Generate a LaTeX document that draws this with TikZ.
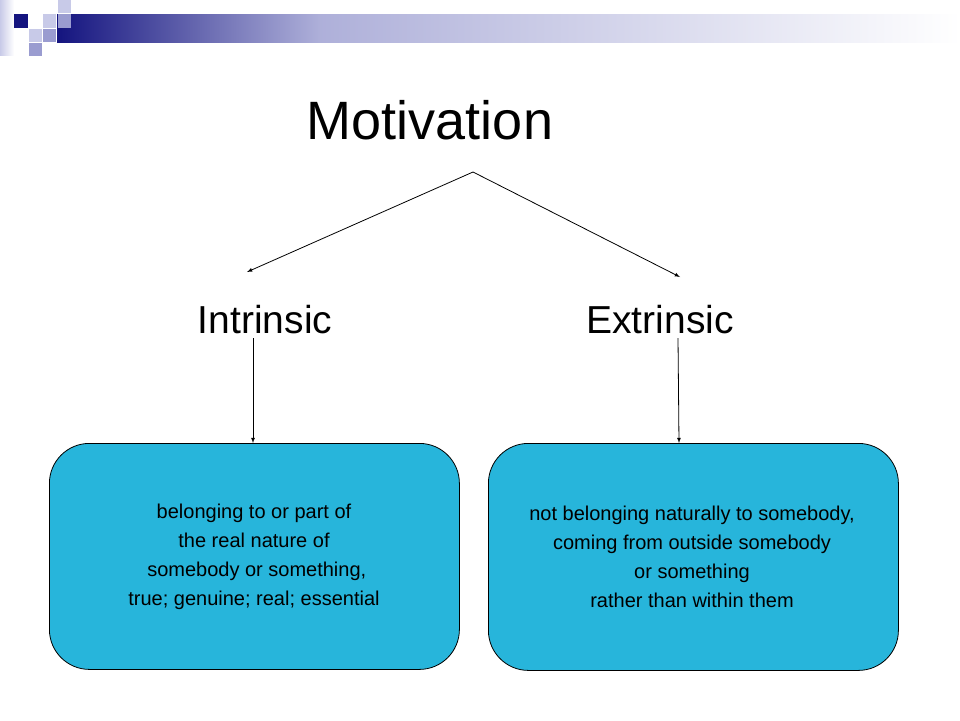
\documentclass[tikz,border=0pt]{standalone}
\usepackage{fontspec}
\setmainfont{Liberation Sans}
\definecolor{boxc}{HTML}{27B5DB}
\definecolor{dblue}{HTML}{14147F}
\definecolor{lblue}{HTML}{C8CAE8}
\definecolor{mblue}{HTML}{9A9CD0}
\begin{document}
\begin{tikzpicture}[x=1pt,y=-1pt,
  sq/.style={inner sep=0,outer sep=0,minimum size=13.5pt},
  bx/.style={draw=black,fill=boxc,rounded corners=40pt,line width=0.8pt,minimum width=410pt,minimum height=226pt,anchor=north west},
  tx/.style={align=center,font=\fontsize{20}{28.8}\selectfont},
  arr/.style={-latex,line width=0.8pt}]
\useasboundingbox (0,0) rectangle (960,720);
\shade[left color=lblue,right color=white] (0,0) rectangle (14,55);
\shade[left color=dblue,right color=white] (57,14) rectangle (960,42);
\shade[left color=dblue,right color=mblue!80!white] (57,14) rectangle (320,42);
\shade[left color=mblue!80!white,right color=white] (320,14) rectangle (960,42);
\fill[dblue] (14,14) rectangle (28,28);
\fill[lblue] (43,14) rectangle (56,28);
\fill[mblue] (58,14) rectangle (71,28);
\fill[lblue] (58,0) rectangle (71,13);
\fill[lblue] (29,29) rectangle (42,42);
\fill[mblue] (43,29) rectangle (56,42);
\fill[mblue] (29,43) rectangle (42,56);
\node (mot) at (430,120) {\fontsize{54}{60}\selectfont Motivation};
\coordinate (top) at (473,172);
\node (in) at (265,320) {\fontsize{39}{44}\selectfont Intrinsic};
\node (ex) at (660,320) {\fontsize{39}{44}\selectfont Extrinsic};
\coordinate (ia) at (247,272);
\coordinate (ea) at (680,277);
\node[bx] (lb) at (49,443) {};
\node[bx,minimum height=227pt] (rb) at (488,443) {};
\draw[arr] (top) -- (ia);
\draw[arr] (top) -- (ea);
\draw[arr] (253,338) -- (lb.north -| 253,0);
\draw[arr] (678,338) -- (rb.north -| 679,0);
\node[tx] at (254,557) {belonging to or part of\\the real nature of\\\ somebody or something,\\true; genuine; real; essential};
\node[tx] at (692,557) {not belonging naturally to somebody,\\coming from outside somebody\\or something\\rather than within them};
\end{tikzpicture}
\end{document}
